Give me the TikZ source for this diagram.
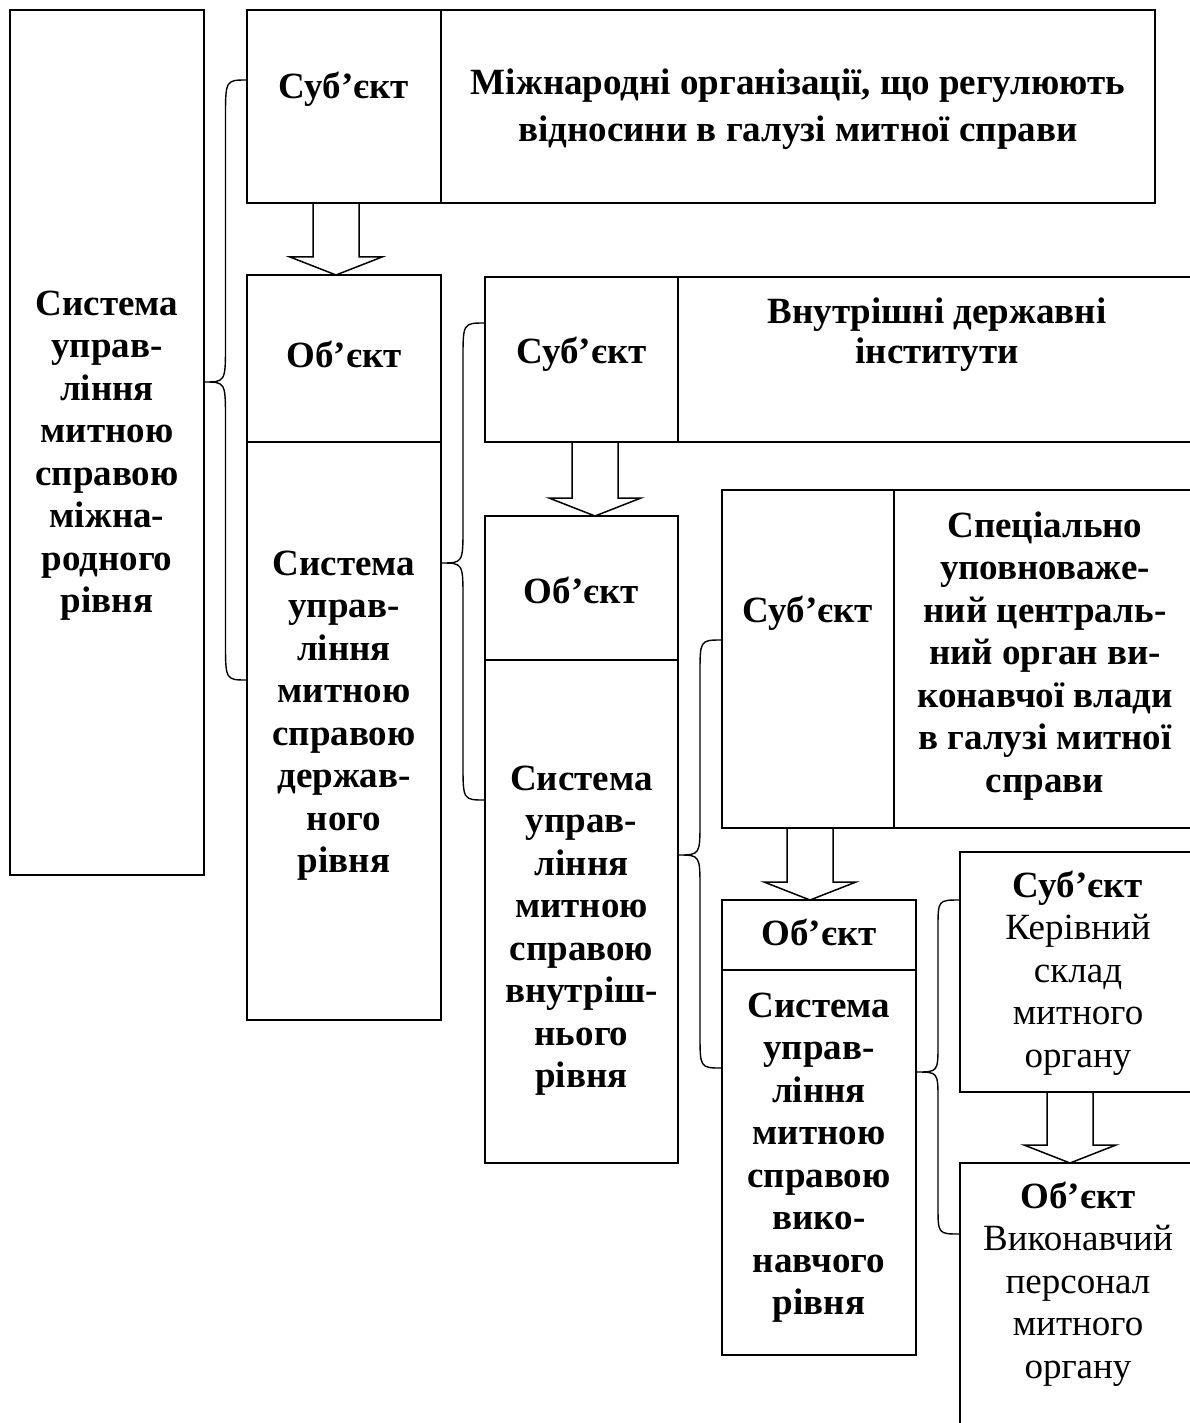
\documentclass[tikz,border=0pt]{standalone}
\usepackage{fontspec}
\setmainfont{Liberation Serif}
\usetikzlibrary{calc}

\tikzset{
  box/.style={draw, line width=1.6pt, inner sep=0pt, outer sep=0pt, anchor=north west},
  txt/.style={inner sep=0pt, outer sep=0pt, align=center,
              font=\fontsize{37}{42.5}\selectfont\bfseries},
  arr/.style={draw, line width=1.5pt, line join=miter},
  brc/.style={draw, line width=1.4pt},
}

% hollow block arrow pointing down from one box to the next
\newcommand\blockarrow[3]{%
  \draw[arr] ($(#1 |- #2.south)+(-23,0)$) -- ($(#1 |- #3.north)+(-23,18)$)
    -- ($(#1 |- #3.north)+(-46,18)$) -- (#1 |- #3.north)
    -- ($(#1 |- #3.north)+(46,18)$) -- ($(#1 |- #3.north)+(23,18)$)
    -- ($(#1 |- #2.south)+(23,0)$);}

% curly bracket: #1 box on the left, #2/#3 top and bottom boxes on the right,
% #4 top, #5 tip, #6 bottom heights, #7 size of the bends
\newcommand\curlylink[7]{%
  \draw[brc] let \p1=(#1.east), \p2=(#2.west), \p3=(#3.west), \n1={(\x1+\x2)/2} in
    (\x2,-#4) .. controls (\n1,-#4) .. (\n1,{-#4-#7})
    -- (\n1,{-#5+#7}) .. controls (\n1,-#5) .. (\x1,-#5)
    .. controls (\n1,-#5) .. (\n1,{-#5-#7})
    -- (\n1,{-#6+#7}) .. controls (\n1,-#6) .. (\x3,-#6);}

\begin{document}
\begin{tikzpicture}[x=1pt, y=1pt]
\useasboundingbox (0,0) rectangle (1189,-1423);
\fill[white] (0,0) rectangle (1189,-1423);

% boxes
\node[box, minimum width=194pt, minimum height=865pt] (L)  at (10,-10)   {};
\node[box, minimum width=194pt, minimum height=193pt] (S1) at (247,-10)  {};
\node[box, minimum width=714pt, minimum height=193pt] (T1) at (441,-10)  {};
\node[box, minimum width=194pt, minimum height=167pt] (O1) at (247,-275) {};
\node[box, minimum width=194pt, minimum height=578pt] (Y1) at (247,-442) {};
\node[box, minimum width=193pt, minimum height=165pt] (S2) at (485,-277) {};
\node[box, minimum width=522pt, minimum height=165pt] (T2) at (678,-277) {};
\node[box, minimum width=193pt, minimum height=144pt] (O2) at (485,-516) {};
\node[box, minimum width=193pt, minimum height=503pt] (Y2) at (485,-660) {};
\node[box, minimum width=172pt, minimum height=338pt] (S3) at (722,-490) {};
\node[box, minimum width=306pt, minimum height=338pt] (T3) at (894,-490) {};
\node[box, minimum width=194pt, minimum height=70pt]  (O3) at (722,-900) {};
\node[box, minimum width=194pt, minimum height=385pt] (Y3) at (722,-970) {};
\node[box, minimum width=240pt, minimum height=240pt] (S4) at (960,-852) {};
\node[box, minimum width=240pt, minimum height=280pt] (O4) at (960,-1163) {};

% texts
\node[txt, anchor=north] (tL) at (107,-285.25)
  {\strut Система\\управ-\\ління\\митною\\справою\\міжна-\\родного\\рівня\strut};
\node[txt, anchor=base] (tS1) at (344,-99) {Суб’єкт};
\node[txt, anchor=north, font=\fontsize{37}{47}\selectfont\bfseries] (tT1) at (798,-62.1)
  {\strut Міжнародні організації, що регулюють\\відносини в галузі митної справи\strut};
\node[txt, anchor=base] (tO1) at (344,-367) {Об’єкт};
\node[txt, anchor=north] (tY1) at (344,-545.25)
  {\strut Система\\управ-\\ління\\митною\\справою\\держав-\\ного\\рівня\strut};
\node[txt, anchor=base] (tS2) at (581.5,-363) {Суб’єкт};
\node[txt, anchor=north, font=\fontsize{37}{40}\selectfont\bfseries] (tT2) at (937,-295)
  {\strut Внутрішні державні\\інститути\strut};
\node[txt, anchor=base] (tO2) at (581.5,-603) {Об’єкт};
\node[txt, anchor=north] (tY2) at (581.5,-760.25)
  {\strut Система\\управ-\\ління\\митною\\справою\\внутріш-\\нього\\рівня\strut};
\node[txt, anchor=base] (tS3) at (808,-622) {Суб’єкт};
\node[txt, anchor=north] (tT3) at (1045,-507.25)
  {\strut Спеціально\\уповноваже-\\ний централь-\\ний орган ви-\\конавчої влади\\в галузі митної\\справи\strut};
\node[txt, anchor=base] (tO3) at (819,-945) {Об’єкт};
\node[txt, anchor=north] (tY3) at (819,-987.25)
  {\strut Система\\управ-\\ління\\митною\\справою\\вико-\\навчого\\рівня\strut};
\node[txt, anchor=north] (tS4) at (1078,-867.25)
  {\strut Суб’єкт\\\mdseries Керівний\\\mdseries склад\\\mdseries митного\\\mdseries органу\strut};
\node[txt, anchor=north] (tO4) at (1078,-1178.25)
  {\strut Об’єкт\\\mdseries Виконавчий\\\mdseries персонал\\\mdseries митного\\\mdseries органу\strut};

% arrows from subject to object
\coordinate (a1) at (336,0);
\coordinate (a2) at (595,0);
\coordinate (a3) at (810,0);
\coordinate (a4) at (1070,0);
\blockarrow{a1}{S1}{O1}
\blockarrow{a2}{S2}{O2}
\blockarrow{a3}{S3}{O3}
\blockarrow{a4}{S4}{O4}

% brackets joining each system to its subject and object
\curlylink{L}{S1}{Y1}{80}{382}{680}{38}
\curlylink{Y1}{S2}{Y2}{323}{563}{800}{36}
\curlylink{Y2}{S3}{Y3}{640}{855}{1068}{34}
\curlylink{Y3}{S4}{O4}{900}{1072}{1234}{28}
\end{tikzpicture}
\end{document}
